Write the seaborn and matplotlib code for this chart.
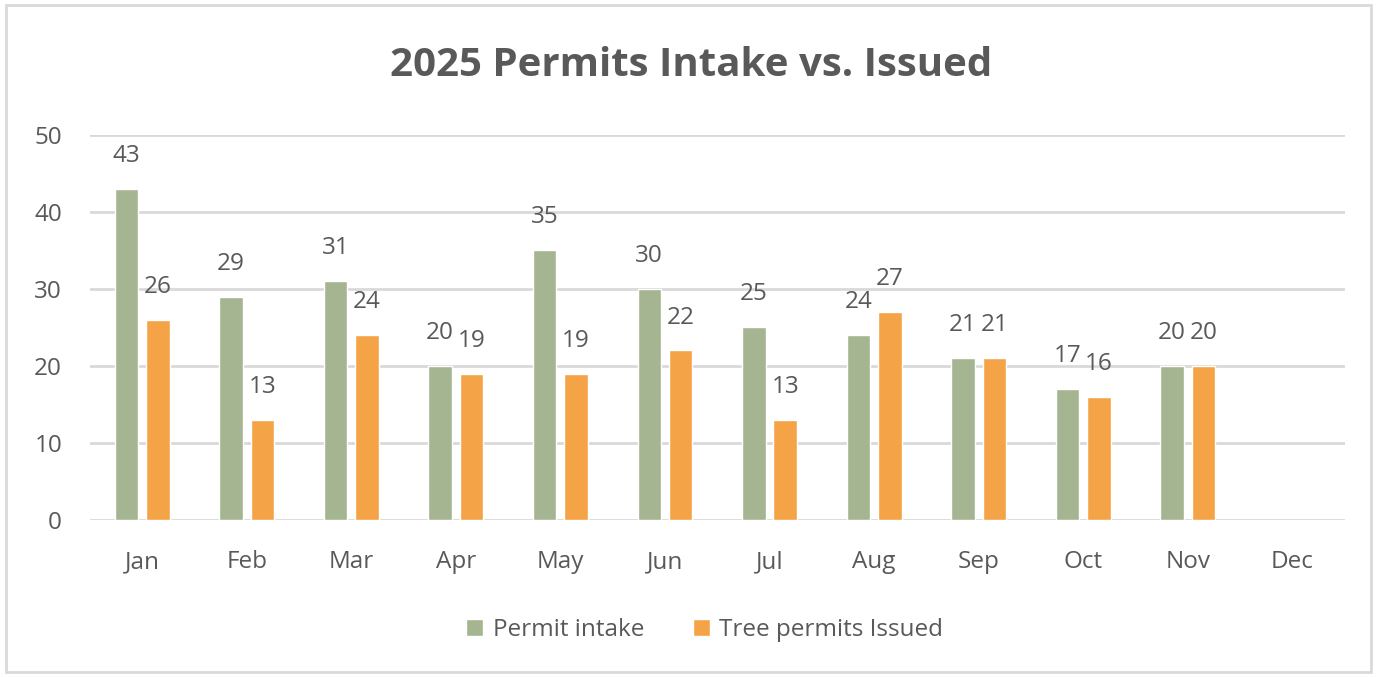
import pandas as pd
import matplotlib.pyplot as plt
import seaborn as sns
from matplotlib.patches import Rectangle

# Monthly values (Dec has no data yet)
months = ["Jan", "Feb", "Mar", "Apr", "May", "Jun", "Jul", "Aug", "Sep", "Oct", "Nov", "Dec"]
permit_intake = [43, 29, 31, 20, 35, 30, 25, 24, 21, 17, 20, None]
permits_issued = [26, 13, 24, 19, 19, 22, 13, 27, 21, 16, 20, None]
series_names = ["Permit intake", "Tree permits Issued"]
colors = ["#A5B592", "#F4A447"]

# Long format for seaborn
data = pd.DataFrame({"Month": months,
                     series_names[0]: permit_intake,
                     series_names[1]: permits_issued})
long_data = data.melt(id_vars="Month", var_name="Series", value_name="Count")

sns.set_theme(style="white")
plt.rcParams["font.family"] = ["Open Sans", "DejaVu Sans"]
text_color = "#595959"

fig = plt.figure(figsize=(13.82, 6.77), dpi=100)
ax = fig.add_axes([0.065, 0.232, 0.908, 0.569])

sns.barplot(data=long_data, x="Month", y="Count", hue="Series", order=months,
            hue_order=series_names, palette=colors, width=0.6, gap=0.25,
            saturation=1, ax=ax, zorder=3)

# Data labels above the bars
for container in ax.containers:
    ax.bar_label(container, fmt="%g", padding=15, fontsize=17.5, color=text_color)

# Axes styling
ax.set_ylim(0, 50)
ax.set_yticks(range(0, 51, 10))
ax.set_xlim(-0.5, 11.5)
ax.grid(axis="y", color="#D9D9D9", linewidth=2, zorder=0)
ax.set_xlabel("")
ax.set_ylabel("")
for side in ["top", "right", "left", "bottom"]:
    ax.spines[side].set_visible(False)
ax.tick_params(axis="both", length=0, labelsize=17.5, labelcolor=text_color)
ax.tick_params(axis="x", pad=22)
ax.tick_params(axis="y", pad=20)

# Title and legend
fig.text(0.5, 0.903, "2025 Permits Intake vs. Issued", ha="center", va="center",
         fontsize=29, fontweight="bold", color=text_color)
ax.legend(loc="center", bbox_to_anchor=(0.49, -0.286), ncol=2, frameon=False,
          fontsize=17.5, labelcolor=text_color, handlelength=0.7, handleheight=0.7,
          columnspacing=2.0, handletextpad=0.4)

# Light border round the whole chart
fig.patches.append(Rectangle((0.004, 0.008), 0.988, 0.984, transform=fig.transFigure,
                             fill=False, edgecolor="#D9D9D9", linewidth=2))

fig.savefig("out.png", dpi=100)
